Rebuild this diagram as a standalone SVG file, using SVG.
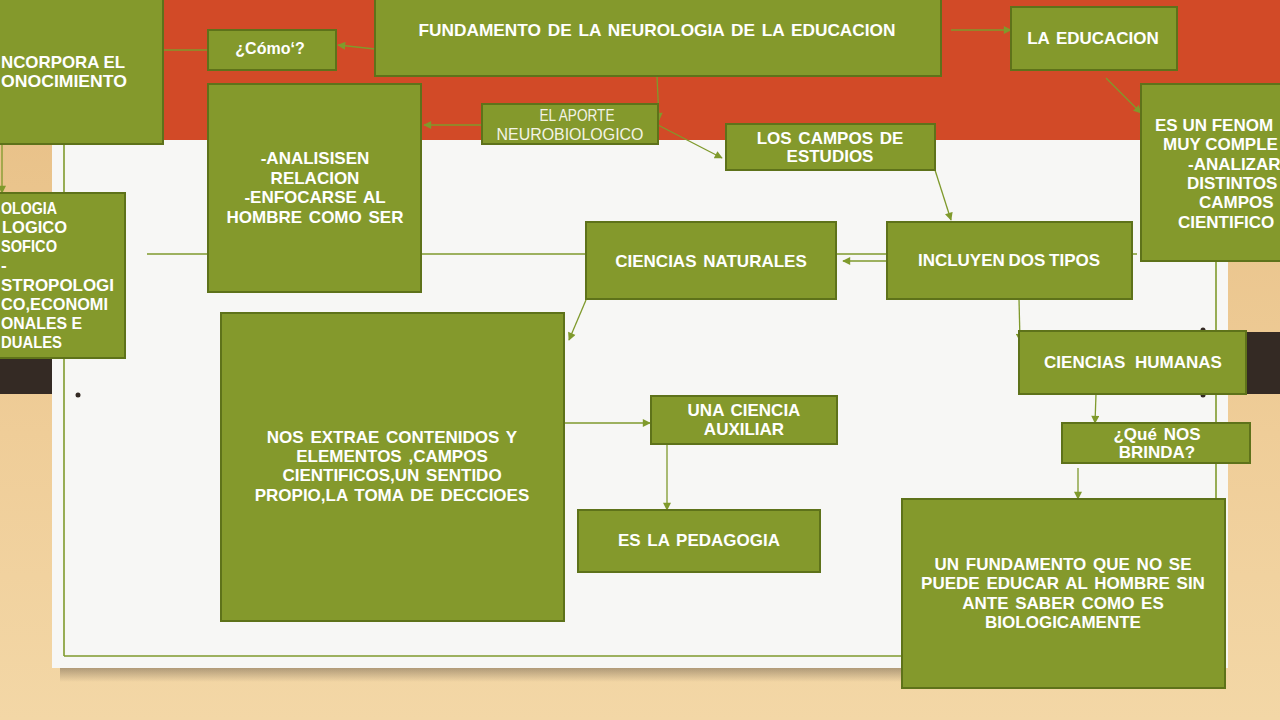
<svg xmlns="http://www.w3.org/2000/svg" width="1280" height="720" viewBox="0 0 1280 720">
<defs>
<linearGradient id="wood" x1="0" y1="0" x2="0" y2="1">
<stop offset="0" stop-color="#e6bd83"/>
<stop offset="0.6" stop-color="#efcd98"/>
<stop offset="1" stop-color="#f3d7a6"/>
</linearGradient>
<linearGradient id="shadow" x1="0" y1="0" x2="0" y2="1">
<stop offset="0" stop-color="#7a6a55" stop-opacity="0.55"/>
<stop offset="1" stop-color="#7a6a55" stop-opacity="0"/>
</linearGradient>
<marker id="arr" viewBox="0 0 10 10" refX="9" refY="5" markerWidth="9" markerHeight="8" markerUnits="userSpaceOnUse" orient="auto">
<path d="M0,0 L10,5 L0,10 z" fill="#7f9a2c"/>
</marker>
</defs>
<style>
.node rect{fill:#84992c;stroke:#5e721a;stroke-width:2}
.t{font-family:"Liberation Sans",Arial,sans-serif;font-weight:bold;font-size:17px;fill:#ffffff;text-anchor:middle;word-spacing:2px}
.s{text-anchor:start;word-spacing:0}
.l{font-family:"Liberation Sans",Arial,sans-serif;font-weight:normal;font-size:16px;fill:#f3f3e6;text-anchor:middle}
.c line{stroke:#7f9a2c;stroke-width:1.3;fill:none}
.c .a{marker-end:url(#arr)}
.frame{stroke:#7f9a2c;stroke-width:1.6;fill:none}
</style>
<!-- background -->
<rect x="0" y="0" width="1280" height="720" fill="url(#wood)"/>
<rect x="60" y="668" width="850" height="14" fill="url(#shadow)"/>
<rect x="0" y="358" width="80" height="36" fill="#342a24"/>
<rect x="1228" y="332" width="52" height="62" fill="#342a24"/>
<rect x="52" y="0" width="1176" height="668" fill="#f7f7f5"/>
<rect x="0" y="0" width="1280" height="140" fill="#d24a27"/>
<circle cx="78" cy="395" r="2.5" fill="#342a24"/>
<circle cx="1203" cy="330" r="2.5" fill="#342a24"/>
<circle cx="1203" cy="395" r="2.5" fill="#342a24"/>
<g class="frame">
<line x1="64" y1="144" x2="64" y2="656"/>
<line x1="64" y1="656" x2="904" y2="656"/>
<line x1="1216" y1="260" x2="1216" y2="500"/>
<line x1="147" y1="254" x2="1137" y2="254"/>
</g>
<!-- connectors -->
<g class="c" id="connectors">
<line x1="163" y1="50" x2="208" y2="50"/>
<line class="a" x1="2" y1="144" x2="2" y2="193"/>
<line class="a" x1="375" y1="49" x2="338" y2="45"/>
<line class="a" x1="951" y1="30" x2="1011" y2="30"/>
<line class="a" x1="1106" y1="78" x2="1141" y2="113"/>
<line class="a" x1="657" y1="76" x2="659" y2="120"/>
<line class="a" x1="482" y1="125" x2="424" y2="125"/>
<line class="a" x1="658" y1="125" x2="722" y2="158"/>
<line class="a" x1="935" y1="170" x2="951" y2="220"/>
<line class="a" x1="887" y1="261" x2="843" y2="261"/>
<line class="a" x1="1019" y1="299" x2="1020" y2="341"/>
<line class="a" x1="586" y1="300" x2="569" y2="340"/>
<line class="a" x1="564" y1="423" x2="650" y2="423"/>
<line class="a" x1="667" y1="444" x2="667" y2="510"/>
<line class="a" x1="1096" y1="394" x2="1095" y2="423"/>
<line class="a" x1="1078" y1="468" x2="1078" y2="499"/>
</g>
<!-- nodes -->
<g class="node" id="n-incorpora">
<rect x="-5" y="-3" width="168" height="147"/>
<text class="t s" x="1" y="68" textLength="124" lengthAdjust="spacingAndGlyphs">NCORPORA EL</text>
<text class="t s" x="1" y="87" textLength="126" lengthAdjust="spacingAndGlyphs">ONOCIMIENTO</text>
</g>
<g class="node" id="n-como">
<rect x="208" y="30" width="128" height="40"/>
<text class="t" x="270" y="54" style="font-size:16px">¿Cómo‘?</text>
</g>
<g class="node" id="n-fundamento">
<rect x="375" y="-3" width="566" height="79"/>
<text class="t" x="657" y="36" textLength="477" lengthAdjust="spacingAndGlyphs">FUNDAMENTO DE LA NEUROLOGIA DE LA EDUCACION</text>
</g>
<g class="node" id="n-educacion">
<rect x="1011" y="7" width="166" height="63"/>
<text class="t" x="1093" y="44">LA EDUCACION</text>
</g>
<g class="node" id="n-fenomeno">
<rect x="1141" y="84" width="150" height="177"/>
<text class="t s" x="1155" y="131">ES UN FENOM</text>
<text class="t s" x="1163" y="150">MUY COMPLE</text>
<text class="t s" x="1188" y="170">-ANALIZAR</text>
<text class="t s" x="1187" y="189">DISTINTOS</text>
<text class="t s" x="1199" y="208">CAMPOS</text>
<text class="t s" x="1178" y="228">CIENTIFICO</text>
</g>
<g class="node" id="n-analisis">
<rect x="208" y="84" width="213" height="208"/>
<text class="t" x="315" y="164">-ANALISISEN</text>
<text class="t" x="315" y="184">RELACION</text>
<text class="t" x="315" y="203">-ENFOCARSE AL</text>
<text class="t" x="315" y="223">HOMBRE COMO SER</text>
</g>
<g class="node" id="n-aporte">
<rect x="482" y="104" width="176" height="40"/>
<text class="l" x="577" y="121" textLength="75" lengthAdjust="spacingAndGlyphs">EL APORTE</text>
<text class="l" x="570" y="140" textLength="147" lengthAdjust="spacingAndGlyphs">NEUROBIOLOGICO</text>
</g>
<g class="node" id="n-campos">
<rect x="726" y="124" width="209" height="46"/>
<text class="t" x="830" y="144">LOS CAMPOS DE</text>
<text class="t" x="830" y="162">ESTUDIOS</text>
</g>
<g class="node" id="n-sociologia">
<rect x="-5" y="193" width="130" height="165"/>
<text class="t s" x="1" y="214" textLength="56" lengthAdjust="spacingAndGlyphs">OLOGIA</text>
<text class="t s" x="2" y="233" textLength="65" lengthAdjust="spacingAndGlyphs">LOGICO</text>
<text class="t s" x="1" y="252" textLength="56" lengthAdjust="spacingAndGlyphs">SOFICO</text>
<text class="t s" x="1" y="271">-</text>
<text class="t s" x="1" y="291" textLength="113" lengthAdjust="spacingAndGlyphs">STROPOLOGI</text>
<text class="t s" x="1" y="310" textLength="107" lengthAdjust="spacingAndGlyphs">CO,ECONOMI</text>
<text class="t s" x="1" y="329" textLength="81" lengthAdjust="spacingAndGlyphs">ONALES E</text>
<text class="t s" x="1" y="348" textLength="61" lengthAdjust="spacingAndGlyphs">DUALES</text>
</g>
<g class="node" id="n-naturales">
<rect x="586" y="222" width="250" height="77"/>
<text class="t" x="711" y="267">CIENCIAS NATURALES</text>
</g>
<g class="node" id="n-incluyen">
<rect x="887" y="222" width="245" height="77"/>
<text class="t" x="1009" y="266" style="word-spacing:-1px">INCLUYEN DOS TIPOS</text>
</g>
<g class="node" id="n-humanas">
<rect x="1019" y="331" width="227" height="63"/>
<text class="t" x="1133" y="368" style="word-spacing:5px">CIENCIAS HUMANAS</text>
</g>
<g class="node" id="n-extrae">
<rect x="221" y="313" width="343" height="308"/>
<text class="t" x="392" y="443">NOS EXTRAE CONTENIDOS Y</text>
<text class="t" x="392" y="462">ELEMENTOS ,CAMPOS</text>
<text class="t" x="392" y="481">CIENTIFICOS,UN SENTIDO</text>
<text class="t" x="392" y="501">PROPIO,LA TOMA DE DECCIOES</text>
</g>
<g class="node" id="n-auxiliar">
<rect x="651" y="396" width="186" height="48"/>
<text class="t" x="744" y="416">UNA CIENCIA</text>
<text class="t" x="744" y="435">AUXILIAR</text>
</g>
<g class="node" id="n-pedagogia">
<rect x="578" y="510" width="242" height="62"/>
<text class="t" x="699" y="546">ES LA PEDAGOGIA</text>
</g>
<g class="node" id="n-brinda">
<rect x="1062" y="423" width="188" height="40"/>
<text class="t" x="1157" y="440">¿Qué NOS</text>
<text class="t" x="1157" y="458">BRINDA?</text>
</g>
<g class="node" id="n-unfundamento">
<rect x="902" y="499" width="323" height="189"/>
<text class="t" x="1063" y="570">UN FUNDAMENTO QUE NO SE</text>
<text class="t" x="1063" y="589">PUEDE EDUCAR AL HOMBRE SIN</text>
<text class="t" x="1063" y="609">ANTE SABER COMO ES</text>
<text class="t" x="1063" y="628">BIOLOGICAMENTE</text>
</g>
</svg>
